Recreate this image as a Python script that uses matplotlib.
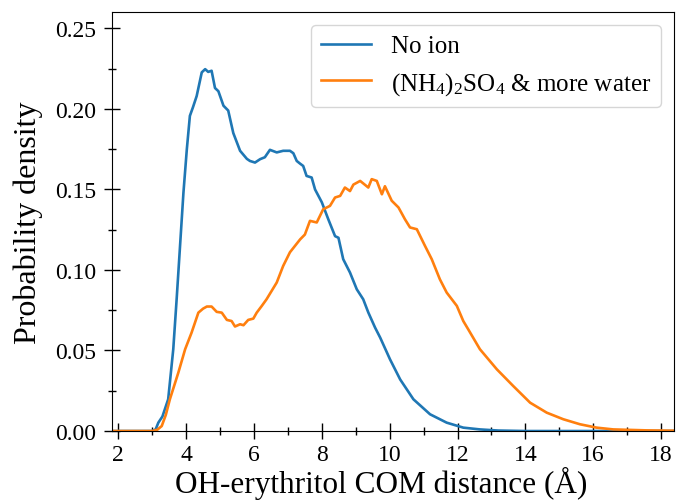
import matplotlib
matplotlib.use("Agg")
import matplotlib.pyplot as plt
from matplotlib.ticker import MultipleLocator

# Data
no_ion_x = [1.8, 3.0, 3.1, 3.18, 3.3, 3.47, 3.62, 3.72, 3.82, 3.92, 4.02, 4.11, 4.2,
            4.31, 4.46, 4.56, 4.65, 4.75, 4.85, 4.95, 5.10, 5.24, 5.39, 5.59, 5.79,
            5.88, 6.03, 6.18, 6.32, 6.47, 6.67, 6.86, 7.06, 7.16, 7.26, 7.36, 7.45,
            7.55, 7.70, 7.80, 8.0, 8.19, 8.39, 8.49, 8.63, 8.83, 9.03, 9.22, 9.37,
            9.57, 9.72, 10.01, 10.31, 10.70, 11.19, 11.68, 12.17, 12.66, 13.2, 14.0,
            16.0, 18.4]
no_ion_y = [0.0, 0.0, 0.001, 0.0052, 0.009, 0.0197, 0.0508, 0.082, 0.115, 0.148, 0.175,
            0.1957, 0.201, 0.208, 0.2227, 0.2247, 0.223, 0.2237, 0.213, 0.211, 0.202,
            0.199, 0.185, 0.174, 0.169, 0.1677, 0.1667, 0.1688, 0.170, 0.1746, 0.173,
            0.174, 0.174, 0.1725, 0.1677, 0.166, 0.1646, 0.1584, 0.1574, 0.150, 0.142,
            0.1315, 0.121, 0.120, 0.1067, 0.0984, 0.088, 0.0818, 0.0736, 0.0642, 0.058,
            0.0445, 0.032, 0.0197, 0.0104, 0.0052, 0.0021, 0.001, 0.0003, 0.0, 0.0, 0.0]

salt_x = [1.8, 3.0, 3.15, 3.28, 3.4, 3.52, 3.77, 3.97, 4.16, 4.36, 4.5, 4.61, 4.75,
          4.90, 5.05, 5.20, 5.34, 5.44, 5.59, 5.69, 5.83, 5.98, 6.08, 6.23, 6.37,
          6.67, 6.86, 7.06, 7.36, 7.50, 7.65, 7.85, 8.04, 8.24, 8.39, 8.54, 8.68,
          8.83, 8.93, 9.13, 9.37, 9.47, 9.62, 9.77, 9.86, 10.06, 10.26, 10.45, 10.60,
          10.80, 11.04, 11.24, 11.48, 11.68, 11.98, 12.17, 12.32, 12.66, 13.16, 13.64,
          14.14, 14.63, 15.12, 15.61, 16.10, 16.59, 17.58, 18.4]
salt_y = [0.0, 0.0, 0.0008, 0.0031, 0.010, 0.0197, 0.0363, 0.0508, 0.0611, 0.0735,
          0.076, 0.0773, 0.0773, 0.074, 0.0735, 0.069, 0.0683, 0.0649, 0.0663, 0.0657,
          0.069, 0.0698, 0.0735, 0.0777, 0.0818, 0.0922, 0.1025, 0.111, 0.119, 0.122,
          0.1305, 0.1295, 0.1377, 0.1398, 0.145, 0.146, 0.1512, 0.149, 0.153, 0.1553,
          0.1512, 0.1564, 0.1553, 0.147, 0.152, 0.143, 0.1388, 0.1315, 0.1264, 0.1253,
          0.115, 0.1067, 0.0942, 0.086, 0.0777, 0.0683, 0.063, 0.0508, 0.0383, 0.028,
          0.0176, 0.0114, 0.0073, 0.0042, 0.0021, 0.001, 0.0004, 0.0002]

plt.rcParams['font.family'] = ['Liberation Serif', 'DejaVu Serif']
plt.rcParams['mathtext.fontset'] = 'custom'
plt.rcParams['mathtext.rm'] = 'Liberation Serif'
plt.rcParams['mathtext.it'] = 'Liberation Serif:italic'

fig, ax = plt.subplots(figsize=(6.78, 5.02), dpi=100)
fig.subplots_adjust(left=0.165, right=0.994, top=0.9735, bottom=0.1394)

ax.plot(no_ion_x, no_ion_y, color='#1f77b4', lw=1.9, label='No ion')
ax.plot(salt_x, salt_y, color='#ff7f0e', lw=1.9,
        label=r'(NH$_4$)$_2$SO$_4$ & more water')

ax.set_xlim(1.81, 18.38)
ax.set_ylim(0, 0.26)
ax.xaxis.set_major_locator(MultipleLocator(2))
ax.xaxis.set_minor_locator(MultipleLocator(1))
ax.yaxis.set_major_locator(MultipleLocator(0.05))
ax.yaxis.set_minor_locator(MultipleLocator(0.025))
ax.tick_params(which='both', direction='inout', labelsize=17, width=1)
ax.tick_params(which='major', length=11.5)
ax.tick_params(which='minor', length=6)
ax.tick_params(axis='y', which='major', pad=5.5)

ax.set_xlabel('OH-erythritol COM distance (Å)', fontsize=22.5, labelpad=1)
ax.xaxis.label.set_x(0.48)
ax.set_ylabel('Probability density', fontsize=23, labelpad=9)
ax.legend(loc='upper right', fontsize=18)

fig.savefig('out.png')
